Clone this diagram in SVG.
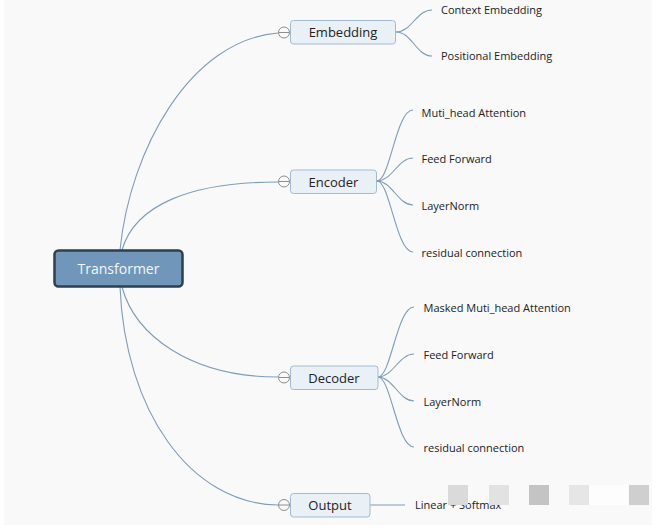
<svg xmlns="http://www.w3.org/2000/svg" width="658" height="530" viewBox="0 0 658 530">
<style>
.bg{fill:#f9f9fa}
.conn{fill:none;stroke:#7f9cba;stroke-width:1.1}
.topic{fill:#e9f0f6;stroke:#a3bbd1;stroke-width:1}
.root{fill:#7096b9;stroke:#2e3f4f;stroke-width:2.5}
.col{fill:#f9f9fa;stroke:#8e8e8e;stroke-width:1}
.t{font-family:"Open Sans","Noto Sans",sans-serif;fill:#222}
.tm{font-size:13px;text-anchor:middle}
.ts{font-size:11px}
.tr{font-size:14px;text-anchor:middle;fill:#f4f7fa}
.wm{stroke:none}
</style>
<rect x="0" y="0" width="658" height="530" fill="#ffffff"/>
<rect class="bg" x="4" y="0" width="648" height="525"/>

<g id="connectors">
  <path class="conn" d="M120,250 C130,150 190,40 278,33"/>
  <path class="conn" d="M122,250 C135,205 190,182 278,182"/>
  <path class="conn" d="M122,287 C135,335 190,377 278,377"/>
  <path class="conn" d="M120,287 C125,410 190,504 278,505"/>
  <path class="conn" d="M396,32 C412,32 416,10 432,10"/>
  <path class="conn" d="M396,32 C412,32 416,56 432,56"/>
  <path class="conn" d="M377,181 C390,181 396,110 413,110"/>
  <path class="conn" d="M377,181 C392,181 398,158 413,158"/>
  <path class="conn" d="M377,181 C392,181 398,205 413,205"/>
  <path class="conn" d="M377,181 C390,181 396,252 413,252"/>
  <path class="conn" d="M378,377 C391,377 397,307 414,307"/>
  <path class="conn" d="M378,377 C393,377 399,354 414,354"/>
  <path class="conn" d="M378,377 C393,377 399,401 414,401"/>
  <path class="conn" d="M378,377 C391,377 397,447 414,447"/>
  <path class="conn" d="M370,505 L405,505"/>
</g>

<g id="root">
  <rect class="root" x="54.5" y="250.5" width="128" height="36" rx="4"/>
  <text class="t tr" x="118.5" y="274">Transformer</text>
</g>

<g id="embedding">
  <circle class="col" cx="284" cy="32.5" r="5.5"/>
  <line x1="278.5" y1="32.5" x2="289.5" y2="32.5" stroke="#8e8e8e" stroke-width="1"/>
  <rect class="topic" x="290.5" y="20.5" width="105" height="23.5" rx="3"/>
  <text class="t tm" x="343" y="37">Embedding</text>
</g>
<g id="context-embedding"><text class="t ts" x="441" y="14">Context Embedding</text></g>
<g id="positional-embedding"><text class="t ts" x="441" y="60">Positional Embedding</text></g>

<g id="encoder">
  <circle class="col" cx="284" cy="181.5" r="5.5"/>
  <line x1="278.5" y1="181.5" x2="289.5" y2="181.5" stroke="#8e8e8e" stroke-width="1"/>
  <rect class="topic" x="290.5" y="170" width="86" height="23.5" rx="3"/>
  <text class="t tm" x="333.5" y="186.5">Encoder</text>
</g>
<g id="enc-attn"><text class="t ts" x="421.5" y="116.5">Muti_head Attention</text></g>
<g id="enc-ff"><text class="t ts" x="421.5" y="163">Feed Forward</text></g>
<g id="enc-ln"><text class="t ts" x="421.5" y="209.5">LayerNorm</text></g>
<g id="enc-res"><text class="t ts" x="421.5" y="256.5">residual connection</text></g>

<g id="decoder">
  <circle class="col" cx="284" cy="377.5" r="5.5"/>
  <line x1="278.5" y1="377.5" x2="289.5" y2="377.5" stroke="#8e8e8e" stroke-width="1"/>
  <rect class="topic" x="290.5" y="366" width="87.5" height="23.5" rx="3"/>
  <text class="t tm" x="334" y="382.5">Decoder</text>
</g>
<g id="dec-attn"><text class="t ts" x="423.5" y="312">Masked Muti_head Attention</text></g>
<g id="dec-ff"><text class="t ts" x="423.5" y="359">Feed Forward</text></g>
<g id="dec-ln"><text class="t ts" x="423.5" y="405.5">LayerNorm</text></g>
<g id="dec-res"><text class="t ts" x="423.5" y="452">residual connection</text></g>

<g id="output">
  <circle class="col" cx="284" cy="505" r="5.5"/>
  <line x1="278.5" y1="505" x2="289.5" y2="505" stroke="#8e8e8e" stroke-width="1"/>
  <rect class="topic" x="290.5" y="493.5" width="79.5" height="23.5" rx="3"/>
  <text class="t tm" x="330" y="510">Output</text>
</g>
<g id="linear-softmax"><text class="t ts" x="415" y="509">Linear + Softmax</text></g>

<g id="watermark">
  <rect class="wm" x="448" y="485" width="20" height="20" fill="#dadada"/>
  <rect class="wm" x="489" y="485" width="20" height="20" fill="#e2e2e2"/>
  <rect class="wm" x="529" y="485" width="20" height="20" fill="#c4c4c4"/>
  <rect class="wm" x="569" y="485" width="20" height="20" fill="#e6e6e6"/>
  <rect class="wm" x="589" y="485" width="39" height="20" fill="#fdfdfd"/>
  <rect class="wm" x="629" y="485" width="20" height="20" fill="#cfcfcf"/>
</g>
</svg>
